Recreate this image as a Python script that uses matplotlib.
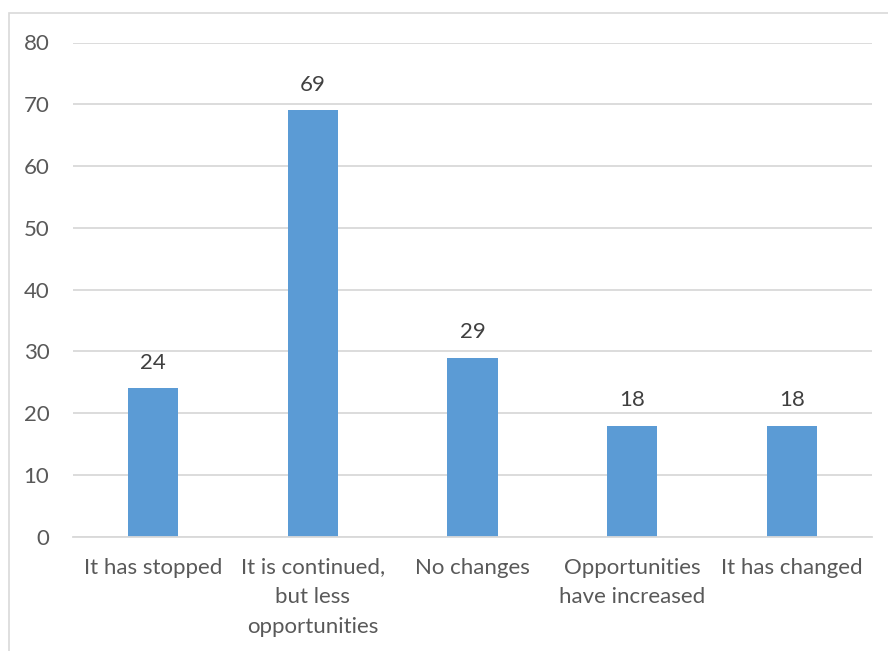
import matplotlib
matplotlib.use("Agg")
import matplotlib.pyplot as plt
from matplotlib.patches import Rectangle

categories = ["It has stopped", "It is continued,\nbut less\nopportunities", "No changes",
              "Opportunities\nhave increased", "It has changed"]
values = [24, 69, 29, 18, 18]
yticks = [0, 10, 20, 30, 40, 50, 60, 70, 80]

plt.rcParams['font.family'] = ['Lato', 'DejaVu Sans']

fig = plt.figure(figsize=(8.88, 6.51), dpi=100)
fig.patch.set_facecolor("white")

# chart frame
fig.patches.append(Rectangle((8.5 / 888, -0.1), 1.2, 1 - 13 / 651 + 0.1,
                             transform=fig.transFigure, fill=False,
                             edgecolor="#d9d9d9", linewidth=1.2))

ax = fig.add_axes([73 / 888, 114.3 / 651, 799 / 888, 494.2 / 651])
x = range(len(categories))
ax.bar(x, values, width=0.313, color="#5b9bd5", zorder=3)

for xi, v in zip(x, values):
    ax.annotate(str(v), (xi, v), xytext=(0, 18.5), textcoords="offset points",
                ha="center", va="center", fontsize=16, color="#404040")

ax.set_xlim(-0.5, len(categories) - 0.5)
ax.set_ylim(0, 80)
ax.set_yticks(yticks)
ax.set_xticks(list(x))
ax.set_xticklabels(categories, fontsize=16, color="#595959", linespacing=1.6)
ax.tick_params(axis="y", labelsize=16, labelcolor="#595959", length=0, pad=17)
ax.tick_params(axis="x", length=0, pad=15)
ax.grid(axis="y", color="#d9d9d9", linewidth=1.3, zorder=0)
for s in ["left", "right", "top"]:
    ax.spines[s].set_visible(False)
ax.spines["bottom"].set_color("#d9d9d9")
ax.spines["bottom"].set_linewidth(1.3)
ax.spines["bottom"].set_zorder(4)

fig.savefig("out.png", dpi=100)
